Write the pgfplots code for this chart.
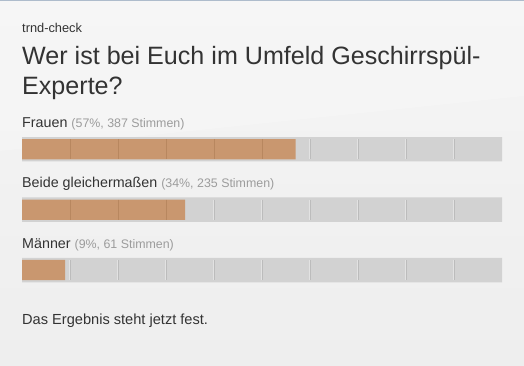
\documentclass[border=0pt]{standalone}
\usepackage{pgfplots}
\pgfplotsset{compat=1.18}
\usepackage{fontspec}
\setmainfont{Liberation Sans}
\definecolor{bgtop}{HTML}{F5F5F5}
\definecolor{bgbot}{HTML}{EEEEEE}
\definecolor{topline}{HTML}{AEBCCC}
\definecolor{track}{HTML}{D2D2D2}
\definecolor{fillor}{HTML}{C9976F}
\definecolor{sepor}{HTML}{B8875F}
\definecolor{sepgr}{HTML}{BCBCBC}
\definecolor{sephl}{HTML}{E2E2E2}
\definecolor{txt}{HTML}{333333}
\definecolor{txtgray}{HTML}{9C9C9C}
\begin{document}
\begin{tikzpicture}[x=1pt,y=1pt]
\path[use as bounding box] (0,0) rectangle (524,366);
\shade[top color=bgtop, bottom color=bgbot] (0,0) rectangle (524,366);
\fill[white, opacity=0.18] (0,366) -- (524,366) -- (524,270) -- (0,215) -- cycle;
\fill[topline] (0,364.5) rectangle (524,366);
\begin{axis}[at={(22pt,65.7pt)}, anchor=south west, scale only axis,
  width=480pt, height=181.2pt, hide axis, clip=false,
  xmin=0, xmax=100, ymin=-0.5, ymax=2.5, y dir=reverse]
% tracks (100%)
\addplot[xbar, bar width=24.4pt, bar shift=0pt, fill=track, draw=none]
  coordinates {(100,0) (100,1) (100,2)};
% gray separators
\pgfplotsinvokeforeach{60,70,80,90}{
  \draw[sephl, line width=1pt] ([xshift=-1pt]axis cs:#1,-0.165) -- ([xshift=-1pt]axis cs:#1,0.165);
  \draw[sepgr, line width=0.9pt] (axis cs:#1,-0.165) -- (axis cs:#1,0.165);}
\pgfplotsinvokeforeach{40,50,60,70,80,90}{
  \draw[sephl, line width=1pt] ([xshift=-1pt]axis cs:#1,0.835) -- ([xshift=-1pt]axis cs:#1,1.165);
  \draw[sepgr, line width=0.9pt] (axis cs:#1,0.835) -- (axis cs:#1,1.165);}
\pgfplotsinvokeforeach{10,20,30,40,50,60,70,80,90}{
  \draw[sephl, line width=1pt] ([xshift=-1pt]axis cs:#1,1.835) -- ([xshift=-1pt]axis cs:#1,2.165);
  \draw[sepgr, line width=0.9pt] (axis cs:#1,1.835) -- (axis cs:#1,2.165);}
% values
\addplot[xbar, bar width=20.3pt, bar shift=0pt, fill=fillor, draw=none]
  coordinates {(57,0) (34,1) (9,2)};
\pgfplotsinvokeforeach{10,20,30,40,50}{
  \draw[sepor, line width=0.9pt] (axis cs:#1,-0.168) -- (axis cs:#1,0.168);}
\pgfplotsinvokeforeach{10,20,30}{
  \draw[sepor, line width=0.9pt] (axis cs:#1,0.832) -- (axis cs:#1,1.168);}
\end{axis}
% texts
\node[anchor=base west, inner sep=0, text=txt, font=\fontsize{12.8}{15}\selectfont] at (22,333) {trnd-check};
\node[anchor=base west, inner sep=0, text=txt, font=\fontsize{25.1}{30}\selectfont] at (22,301) {Wer ist bei Euch im Umfeld Geschirrspül-};
\node[anchor=base west, inner sep=0, text=txt, font=\fontsize{25.1}{30}\selectfont] at (22,271.5) {Experte?};
\node[anchor=base west, inner sep=0, text=txt, font=\fontsize{14.3}{17}\selectfont] at (22,238.8) {Frauen {\color{txtgray}\fontsize{12.4}{15}\selectfont (57\%, 387 Stimmen)}};
\node[anchor=base west, inner sep=0, text=txt, font=\fontsize{14.3}{17}\selectfont] at (22,178.3) {Beide gleichermaßen {\color{txtgray}\fontsize{12.4}{15}\selectfont (34\%, 235 Stimmen)}};
\node[anchor=base west, inner sep=0, text=txt, font=\fontsize{14.3}{17}\selectfont] at (22,117.5) {Männer {\color{txtgray}\fontsize{12.4}{15}\selectfont (9\%, 61 Stimmen)}};
\node[anchor=base west, inner sep=0, text=txt, font=\fontsize{14.6}{17}\selectfont] at (22,41) {Das Ergebnis steht jetzt fest.};
\end{tikzpicture}
\end{document}
